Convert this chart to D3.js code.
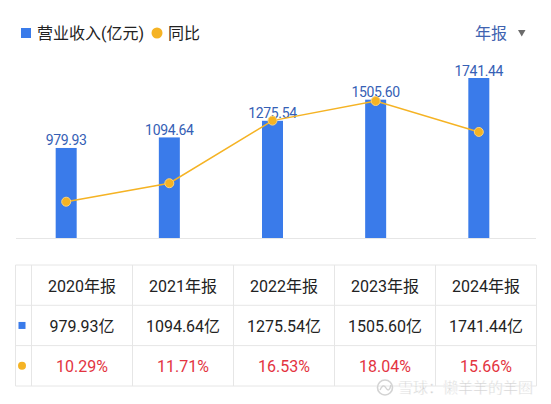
<!DOCTYPE html>
<html>
<head>
<meta charset="utf-8">
<script src="https://cdn.jsdelivr.net/npm/d3@7"></script>
<style>
  body { margin: 0; background: #fff; }
  text { font-family: Roboto, "Noto Sans CJK SC", sans-serif; }
</style>
</head>
<body>
<div id="chart"></div>
<script>
// values
var years = ["2020年报", "2021年报", "2022年报", "2023年报", "2024年报"];
var revenue = [979.93, 1094.64, 1275.54, 1505.60, 1741.44];
var growth = [10.29, 11.71, 16.53, 18.04, 15.66];
var legendNames = ["营业收入(亿元)", "同比"];
var periodLabel = "年报";
var watermark = "雪球：懒羊羊的羊圈";

var W = 551, H = 404;
var blue = "#3a7bea", orange = "#f5b324", red = "#e3343f", grid = "#e6e6e6";

var svg = d3.select("#chart").append("svg")
    .attr("width", W)
    .attr("height", H);

// legend
var lg = svg.append("g");
lg.append("rect").attr("x", 21).attr("y", 28).attr("width", 10).attr("height", 10).attr("fill", blue);
lg.append("text").attr("x", 37).attr("y", 33).attr("dy", "0.35em")
    .attr("font-size", 16).attr("fill", "#222").text(legendNames[0]);
lg.append("circle").attr("cx", 157).attr("cy", 33).attr("r", 5.5).attr("fill", orange);
lg.append("text").attr("x", 168).attr("y", 33).attr("dy", "0.35em")
    .attr("font-size", 16).attr("fill", "#222").text(legendNames[1]);

// period selector at top right
svg.append("text").attr("x", 491).attr("y", 33).attr("dy", "0.35em")
    .attr("text-anchor", "middle").attr("font-size", 16).attr("fill", "#3f63b0")
    .text(periodLabel);
svg.append("path").attr("d", "M518,30 L525.5,30 L521.75,36.5 Z").attr("fill", "#6b6b6b");

// scales
var x = d3.scaleBand().domain(years).range([14.6, 530.4]);
var y = d3.scaleLinear().domain([0, d3.max(revenue)]).range([238, 78]);
var y2 = d3.scaleLinear().domain(d3.extent(growth)).range([201.7, 101]);
var barW = 21;
var cx = function(i) { return x(years[i]) + x.bandwidth() / 2; };

// baseline
svg.append("line").attr("x1", 16).attr("x2", 536).attr("y1", 238.5).attr("y2", 238.5)
    .attr("stroke", grid).attr("stroke-width", 1);

// bars
svg.selectAll("rect.bar")
    .data(revenue)
    .enter()
    .append("rect")
    .attr("class", "bar")
    .attr("x", function(d, i) { return cx(i) - barW / 2; })
    .attr("y", function(d) { return y(d); })
    .attr("width", barW)
    .attr("height", function(d) { return y(0) - y(d); })
    .attr("fill", blue);

svg.selectAll("text.val")
    .data(revenue)
    .enter()
    .append("text")
    .attr("class", "val")
    .attr("x", function(d, i) { return cx(i); })
    .attr("y", function(d) { return y(d) - 2.5; })
    .attr("text-anchor", "middle")
    .attr("font-size", 14)
    .attr("letter-spacing", "-0.35")
    .attr("fill", "#3560b5")
    .text(function(d) { return d3.format(".2f")(d); });

// growth line
var line = d3.line()
    .x(function(d, i) { return cx(i); })
    .y(function(d) { return y2(d); });

svg.append("path")
    .datum(growth)
    .attr("d", line)
    .attr("fill", "none")
    .attr("stroke", orange)
    .attr("stroke-width", 1.5);

svg.selectAll("circle.pt")
    .data(growth)
    .enter()
    .append("circle")
    .attr("class", "pt")
    .attr("cx", function(d, i) { return cx(i); })
    .attr("cy", function(d) { return y2(d); })
    .attr("r", 4.5)
    .attr("fill", orange)
    .attr("stroke", "#fbd37c")
    .attr("stroke-width", 1);

// table underneath
var tx = d3.scaleBand().domain(years).range([31.5, 536.5]);
var rows = [265, 305.3, 345.6, 386];
var tLeft = 15.5, tRight = 536.5;
var tg = svg.append("g");

rows.forEach(function(r) {
    tg.append("line").attr("x1", tLeft).attr("x2", tRight).attr("y1", r).attr("y2", r)
        .attr("stroke", grid);
});
[tLeft].concat(years.map(function(d) { return tx(d); }), [tRight]).forEach(function(c) {
    tg.append("line").attr("x1", c).attr("x2", c).attr("y1", rows[0]).attr("y2", rows[3])
        .attr("stroke", grid);
});

var rowMid = function(k) { return (rows[k] + rows[k + 1]) / 2; };
var colMid = function(d) { return tx(d) + tx.bandwidth() / 2; };

tg.selectAll("text.hd").data(years).enter().append("text")
    .attr("x", colMid).attr("y", rowMid(0) + 1).attr("dy", "0.35em")
    .attr("text-anchor", "middle").attr("font-size", 16).attr("fill", "#222")
    .text(function(d) { return d; });

tg.selectAll("text.rv").data(revenue).enter().append("text")
    .attr("x", function(d, i) { return colMid(years[i]); })
    .attr("y", rowMid(1) + 1).attr("dy", "0.35em")
    .attr("text-anchor", "middle").attr("font-size", 16).attr("fill", "#222")
    .text(function(d) { return d3.format(".2f")(d) + "亿"; });

tg.selectAll("text.gr").data(growth).enter().append("text")
    .attr("x", function(d, i) { return colMid(years[i]); })
    .attr("y", rowMid(2) + 1).attr("dy", "0.35em")
    .attr("text-anchor", "middle").attr("font-size", 16).attr("fill", red)
    .text(function(d) { return d3.format(".2f")(d) + "%"; });

// row markers
tg.append("rect").attr("x", 18.5).attr("y", rowMid(1) - 3.5).attr("width", 7).attr("height", 7).attr("fill", blue);
tg.append("circle").attr("cx", 22).attr("cy", rowMid(2)).attr("r", 4).attr("fill", orange);

// watermark
var wm = svg.append("g").attr("opacity", 0.9);
wm.append("circle").attr("cx", 385).attr("cy", 387.5).attr("r", 7.5)
    .attr("fill", "none").attr("stroke", "#cfcfcf").attr("stroke-width", 1.6);
wm.append("path").attr("d", "M380,390 Q383,383 386,388 Q389,393 391,385")
    .attr("fill", "none").attr("stroke", "#cfcfcf").attr("stroke-width", 1.4);
wm.append("text").attr("x", 398).attr("y", 388).attr("dy", "0.35em")
    .attr("font-size", 15).attr("fill", "#cdcdcd")
    .attr("stroke", "#fff").attr("stroke-width", 0.4)
    .text(watermark);
</script>
</body>
</html>
